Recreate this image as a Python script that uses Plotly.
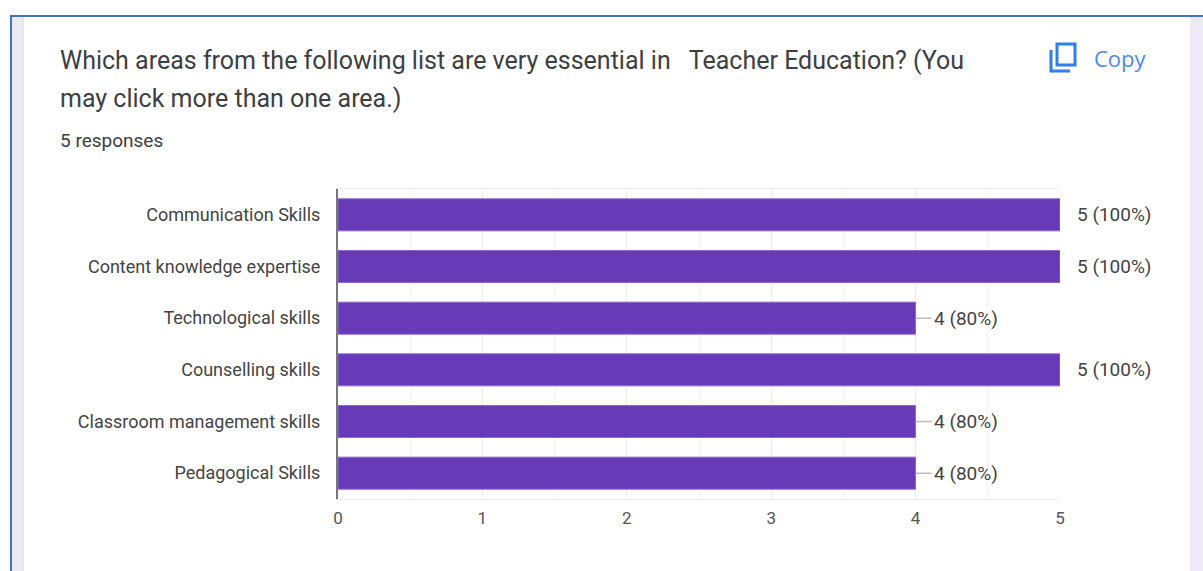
import plotly.graph_objects as go

categories = ["Communication Skills", "Content knowledge expertise", "Technological skills",
              "Counselling skills", "Classroom management skills", "Pedagogical Skills"]
values = [5, 5, 4, 5, 4, 4]
value_labels = ["5 (100%)", "5 (100%)", "4 (80%)", "5 (100%)", "4 (80%)", "4 (80%)"]
x_ticks = [0, 1, 2, 3, 4, 5]
title_lines = ["Which areas from the following list are very essential in \u00a0 Teacher Education? (You",
               "may click more than one area.)"]
subtitle = "5 responses"
copy_label = "Copy"

W, H = 1203, 571
L, R, T, B = 338, 1060, 189, 499
px = lambda x: (x - L) / (R - L)
py = lambda y: (B - y) / (B - T)


def rect(x0, y0, x1, y1, fill, layer="below"):
    return dict(type="rect", xref="paper", yref="paper", x0=px(x0), x1=px(x1), y0=py(y0), y1=py(y1),
                fillcolor=fill, line_width=0, layer=layer)


def text(x, y, s, size, color="#3c4043", family="Roboto", anchor="left"):
    return dict(xref="paper", yref="paper", x=px(x), y=py(y), text=s, showarrow=False, xanchor=anchor,
                yanchor="middle", font=dict(family=family, size=size, color=color))


fig = go.Figure(go.Bar(y=categories, x=values, orientation="h", width=0.62, cliponaxis=False,
                       marker=dict(color="#673ab7", line=dict(color="#8c68cb", width=1)),
                       hoverinfo="skip"))

shapes = [
    rect(10, 15, W, 571, "#ede9f7"),
    rect(22, 17, 1190, 571, "#e6e4ec"),
    rect(24, 17, 1190, 571, "#ffffff"),
    rect(10, 15, W, 17, "#4472c4"),
    rect(10, 15, 12, 571, "#4472c4"),
    dict(type="path", xref="paper", yref="paper", layer="below", fillcolor="rgba(0,0,0,0)",
         line=dict(color="#2f7df0", width=3),
         path=f"M {px(1051)} {py(50)} L {px(1051)} {py(71)} L {px(1070)} {py(71)}"),
    dict(type="rect", xref="paper", yref="paper", layer="below", fillcolor="rgba(0,0,0,0)",
         line=dict(color="#2f7df0", width=3),
         x0=px(1057), x1=px(1075), y0=py(44), y1=py(65)),
]

annotations = [
    text(58, 60, title_lines[0], 25),
    text(58, 98, title_lines[1], 25),
    text(58, 140, subtitle, 19),
    text(1092, 58, copy_label, 22, color="#4b8bf0", family="Open Sans"),
]
for cat, val, lab in zip(categories, values, value_labels):
    full = val == max(values)
    annotations.append(dict(
        x=val, y=cat, xref="x", yref="y", text=lab, xanchor="left", yanchor="middle",
        font=dict(family="Roboto", size=19, color="#444444"),
        showarrow=not full, arrowhead=0, arrowwidth=1.5, arrowcolor="#bdbdbd",
        ax=16, ay=0, axref="pixel", ayref="pixel",
        xshift=15 if full else 0,
    ))

fig.update_layout(
    width=W, height=H, autosize=False, showlegend=False,
    margin=dict(l=L, r=W - R, t=T, b=H - B, pad=0),
    paper_bgcolor="#ffffff", plot_bgcolor="rgba(0,0,0,0)",
    shapes=shapes, annotations=annotations,
    font=dict(family="Roboto", color="#444444", size=18),
)
fig.update_xaxes(range=[0, 5], tickvals=x_ticks, showgrid=True, gridcolor="#ebebeb", gridwidth=1,
                 minor=dict(dtick=0.5, showgrid=True, gridcolor="#f4f4f4", gridwidth=1, ticklen=0),
                 ticks="outside", ticklen=4, tickcolor="rgba(0,0,0,0)",
                 tickfont=dict(family="Roboto", size=17, color="#555555"),
                 zeroline=False, showline=True, linecolor="#ebebeb", linewidth=1, mirror=True)
fig.update_yaxes(autorange="reversed", ticks="outside", ticklen=12, tickcolor="rgba(0,0,0,0)",
                 tickfont=dict(family="Roboto", size=18, color="#444444"),
                 showgrid=False, zeroline=False, showline=True, linecolor="#777777", linewidth=2)

fig.write_html("out.html", config=dict(displayModeBar=False),
               post_script="document.body.style.margin='0';document.body.style.overflow='hidden';")
